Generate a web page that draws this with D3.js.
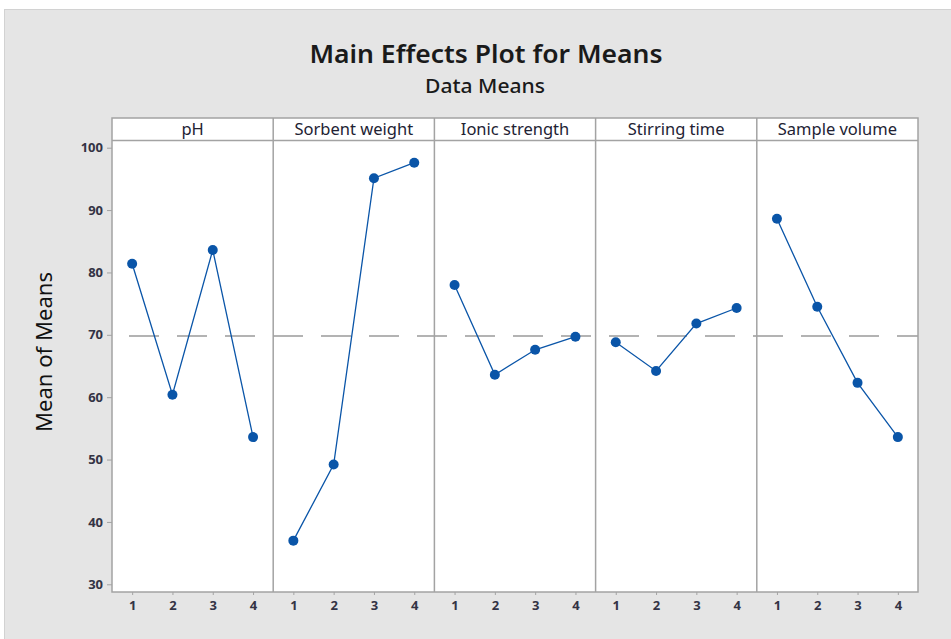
<!DOCTYPE html>
<html>
<head>
<meta charset="utf-8">
<script src="https://cdn.jsdelivr.net/npm/d3@7/dist/d3.min.js"></script>
<style>
  html, body { margin: 0; padding: 0; background: #ffffff; }
  svg { display: block; }
</style>
</head>
<body>
<svg id="chart" width="951" height="639"></svg>
<script>
// ---- data ----
const factors = ["pH", "Sorbent weight", "Ionic strength", "Stirring time", "Sample volume"];
const levels = ["1", "2", "3", "4"];
const phMeans = [81.4, 60.4, 83.6, 53.6];
const sorbentMeans = [37.0, 49.2, 95.1, 97.6];
const ionicMeans = [78.0, 63.6, 67.6, 69.7];
const stirringMeans = [68.8, 64.2, 71.8, 74.3];
const sampleMeans = [88.6, 74.5, 62.3, 53.6];
const grandMean = 69.8;
const yTicks = [30, 40, 50, 60, 70, 80, 90, 100];
const seriesMeans = [phMeans, sorbentMeans, ionicMeans, stirringMeans, sampleMeans];

// ---- layout ----
const W = 951, H = 639;
const plotL = 112, plotR = 918, headTop = 118, headBot = 140.5, plotB = 592;
const panelW = (plotR - plotL) / factors.length;
const blue = "#0a55a8";
const frameCol = "#a3a3a3";
const font = "'Noto Sans', 'Open Sans', 'DejaVu Sans', sans-serif";

const svg = d3.select("#chart");

// background
svg.append("rect").attr("x", 0).attr("y", 0).attr("width", W).attr("height", H).attr("fill", "#ffffff");
svg.append("rect").attr("x", 4.5).attr("y", 9.5).attr("width", W).attr("height", H)
  .attr("fill", "#e5e5e5").attr("stroke", "#d2d2d2").attr("stroke-width", 1);

// titles
svg.append("text").attr("x", 486).attr("y", 63).attr("text-anchor", "middle")
  .attr("font-family", font).attr("font-weight", 600).attr("font-size", 26).attr("fill", "#1a1a1a")
  .attr("textLength", 353).attr("lengthAdjust", "spacingAndGlyphs")
  .text("Main Effects Plot for Means");
svg.append("text").attr("x", 485).attr("y", 93).attr("text-anchor", "middle")
  .attr("font-family", font).attr("font-weight", 500).attr("font-size", 20).attr("fill", "#1a1a1a")
  .attr("textLength", 120).attr("lengthAdjust", "spacingAndGlyphs")
  .text("Data Means");

// y axis title
svg.append("text").attr("transform", "translate(52,352) rotate(-90)").attr("text-anchor", "middle")
  .attr("font-family", font).attr("font-size", 22).attr("fill", "#111")
  .attr("textLength", 160).attr("lengthAdjust", "spacingAndGlyphs")
  .text("Mean of Means");

// scales
const y = d3.scaleLinear().domain([30, 100]).range([584.3, 147.7]);

// plot area white
svg.append("rect").attr("x", plotL).attr("y", headTop).attr("width", plotR - plotL).attr("height", plotB - headTop)
  .attr("fill", "#ffffff");

// y axis
const yAxis = d3.axisLeft(y).tickValues(yTicks).tickSize(5).tickPadding(4).tickFormat(d3.format("d"));
const yg = svg.append("g").attr("transform", `translate(${plotL},0)`).call(yAxis);
yg.select(".domain").remove();
yg.selectAll(".tick line").attr("stroke", frameCol).attr("stroke-width", 1);
yg.selectAll(".tick text").attr("font-family", font).attr("font-weight", 700).attr("font-size", 13).attr("fill", "#333344");

// grand mean reference line
svg.append("line").attr("x1", plotL).attr("x2", plotR).attr("y1", y(grandMean)).attr("y2", y(grandMean))
  .attr("stroke", "#9a9a9a").attr("stroke-width", 1.5).attr("stroke-dasharray", "30,18")
  .attr("stroke-dashoffset", -17);

// panels
factors.forEach((f, i) => {
  const x0 = plotL + i * panelW;
  const x = d3.scalePoint().domain(levels).range([x0, x0 + panelW]).padding(0.5);
  const g = svg.append("g");

  // header text
  g.append("text").attr("x", x0 + panelW / 2).attr("y", headTop + 17).attr("text-anchor", "middle")
    .attr("font-family", font).attr("font-size", 16.5).attr("fill", "#222233").text(f);

  // x axis ticks
  const xAxis = d3.axisBottom(x).tickSize(3).tickPadding(6);
  const xg = g.append("g").attr("transform", `translate(0,${plotB})`).call(xAxis);
  xg.select(".domain").remove();
  xg.selectAll(".tick line").attr("stroke", frameCol).attr("stroke-width", 1);
  xg.selectAll(".tick text").attr("font-family", font).attr("font-weight", 700).attr("font-size", 13).attr("fill", "#333344");

  // line
  const vals = seriesMeans[i];
  const line = d3.line().x((d, j) => x(levels[j])).y(d => y(d));
  g.append("path").datum(vals).attr("d", line).attr("fill", "none").attr("stroke", blue).attr("stroke-width", 1.3);
  g.selectAll("circle").data(vals).join("circle")
    .attr("cx", (d, j) => x(levels[j])).attr("cy", d => y(d)).attr("r", 5).attr("fill", blue);

  // divider
  if (i > 0) {
    svg.append("line").attr("x1", x0).attr("x2", x0).attr("y1", headTop).attr("y2", plotB)
      .attr("stroke", frameCol).attr("stroke-width", 1.5);
  }
});

// header bottom line and frame
svg.append("line").attr("x1", plotL).attr("x2", plotR).attr("y1", headBot).attr("y2", headBot)
  .attr("stroke", frameCol).attr("stroke-width", 1.5);
svg.append("rect").attr("x", plotL).attr("y", headTop).attr("width", plotR - plotL).attr("height", plotB - headTop)
  .attr("fill", "none").attr("stroke", frameCol).attr("stroke-width", 1.5);
</script>
</body>
</html>
